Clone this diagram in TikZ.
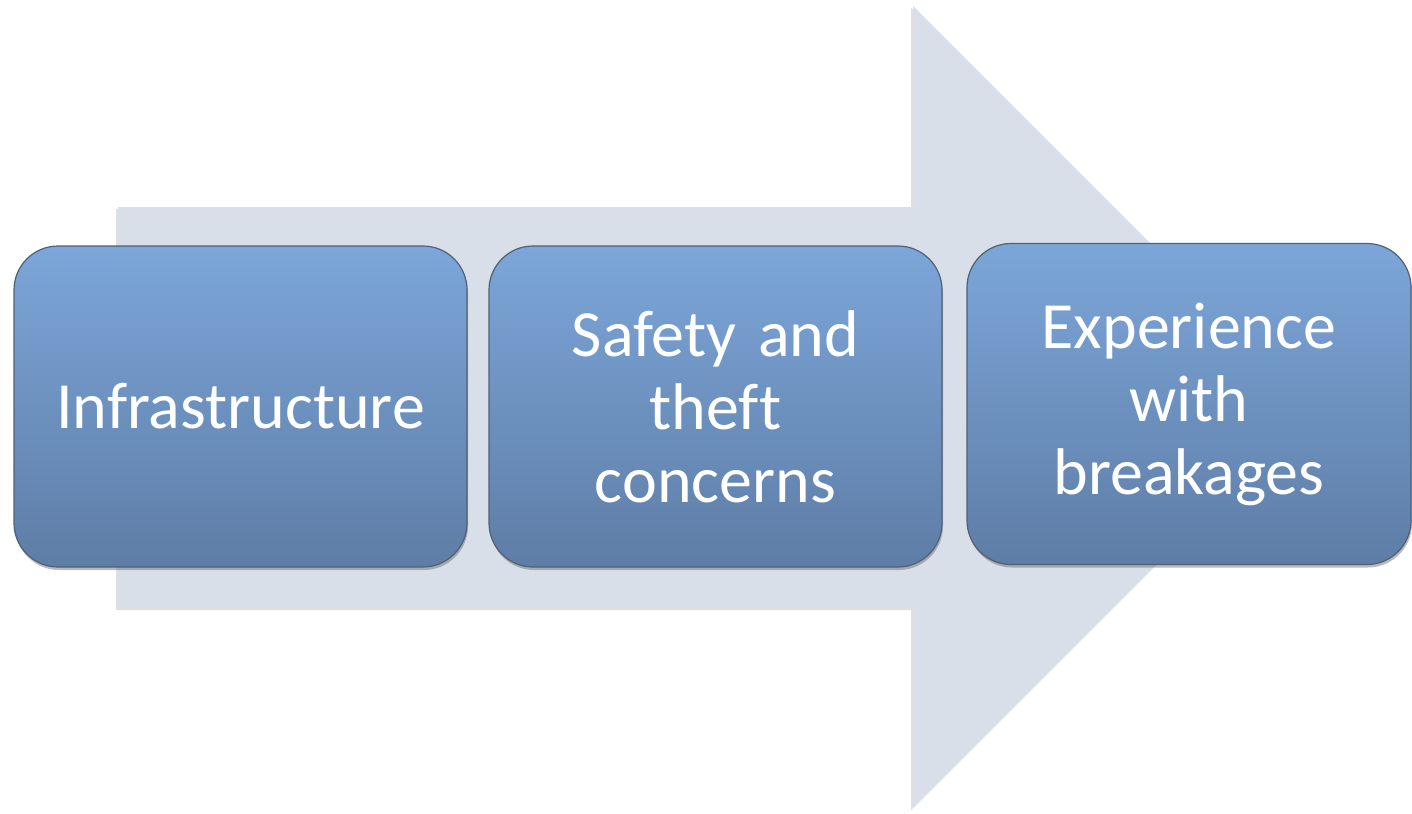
\documentclass[tikz,border=0pt]{standalone}
\usepackage{fontspec}
\setmainfont[Ligatures={NoCommon}]{Carlito}
\usetikzlibrary{shadows}
\definecolor{arrowfill}{HTML}{D9DFE8}
\definecolor{boxtop}{HTML}{7CA6D9}
\definecolor{boxbot}{HTML}{5E7DA6}
\definecolor{boxedge}{HTML}{4F6178}
\tikzset{
  stagebox/.style={rounded corners=22pt, draw=boxedge, line width=0.6pt,
    top color=boxtop, bottom color=boxbot,
    minimum width=226.5pt, minimum height=160.5pt, inner sep=0pt,
    text width=215pt, align=center, text=white,
    font=\fontsize{33}{36.5}\selectfont,
    drop shadow={shadow xshift=0.5pt, shadow yshift=-1.5pt, opacity=0.45, fill=black!60}},
  bigarrow/.style={fill=arrowfill, draw=none,
    drop shadow={shadow xshift=-1pt, shadow yshift=-1pt, opacity=0.25, fill=black!50}}
}
\begin{document}
\begin{tikzpicture}[x=0.5pt,y=-0.5pt]
\useasboundingbox (0,0) rectangle (1412,813);
\path[bigarrow] (118,207) -- (913,207) -- (913,6) -- (1314,407) -- (913,808) -- (913,608) -- (118,608) -- cycle;
\node[stagebox] (b1) at (240.5,406.5) {Infrastructure};
\node[stagebox] (b2) at (715.5,406.5) {Safety and\\theft\\concerns};
\node[stagebox, minimum width=222pt] (b3) at (1189,404) {Experience\\with\\breakages};
\end{tikzpicture}
\end{document}
